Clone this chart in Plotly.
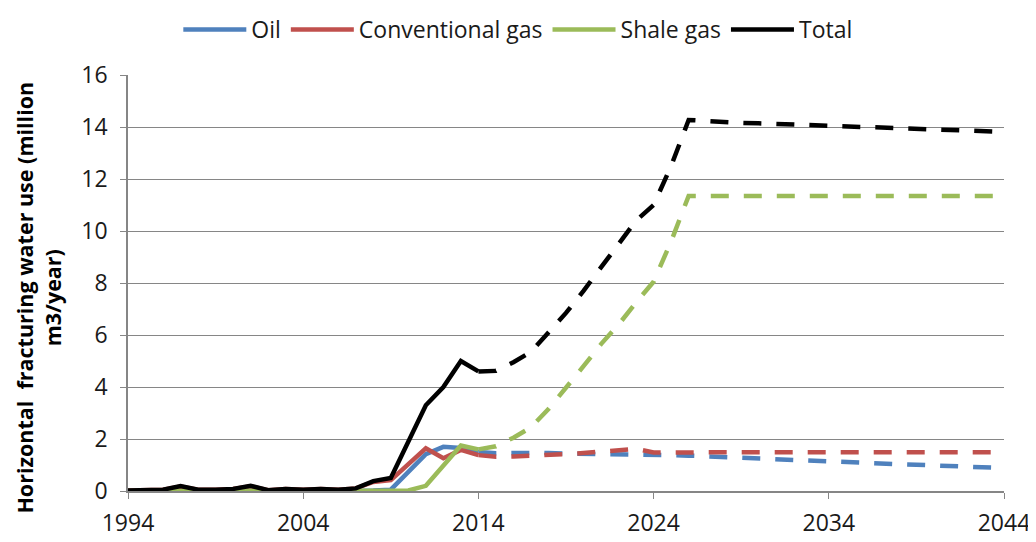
import plotly.graph_objects as go

# Historical (solid) 1994-2014
hist_years = list(range(1994, 2015))
oil_hist = [0, 0, 0, 0, 0, 0, 0, 0, 0, 0, 0, 0, 0, 0, 0.02, 0.05, 0.72, 1.42, 1.7, 1.65, 1.5]
gas_hist = [0.02, 0.02, 0.05, 0.17, 0.05, 0.05, 0.08, 0.18, 0.03, 0.08, 0.05, 0.08, 0.05, 0.1, 0.35, 0.42, 1.05, 1.64, 1.26, 1.58, 1.38]
shale_hist = [0, 0, 0, 0, 0, 0, 0, 0, 0, 0, 0, 0, 0, 0, 0, 0, 0.02, 0.2, 0.95, 1.75, 1.6]
total_hist = [0.02, 0.02, 0.05, 0.19, 0.05, 0.05, 0.08, 0.2, 0.03, 0.08, 0.05, 0.08, 0.05, 0.1, 0.38, 0.5, 1.9, 3.3, 4.0, 5.0, 4.6]

# Projections (dashed) 2014-2044
proj_years = list(range(2014, 2045))
oil_proj = [1.5, 1.45, 1.46, 1.47, 1.46, 1.44, 1.43, 1.43, 1.43, 1.44, 1.39, 1.38, 1.36, 1.33, 1.31, 1.27,
            1.23, 1.21, 1.18, 1.15, 1.12, 1.1, 1.08, 1.06, 1.03, 1.01, 0.98, 0.95, 0.92, 0.9, 0.88]
gas_proj = [1.38, 1.32, 1.33, 1.35, 1.38, 1.42, 1.46, 1.5, 1.55, 1.62, 1.48, 1.49, 1.49, 1.49, 1.49, 1.49,
            1.49, 1.49, 1.49, 1.49, 1.49, 1.49, 1.49, 1.49, 1.49, 1.49, 1.49, 1.49, 1.49, 1.49, 1.49]
shale_proj = [1.6, 1.72, 2.05, 2.45, 3.15, 3.95, 4.8, 5.65, 6.4, 7.25, 8.05, 9.6, 11.35, 11.35, 11.35, 11.35,
              11.35, 11.35, 11.35, 11.35, 11.35, 11.35, 11.35, 11.35, 11.35, 11.35, 11.35, 11.35, 11.35, 11.35, 11.35]
total_proj = [4.6, 4.62, 4.95, 5.35, 6.1, 6.85, 7.7, 8.6, 9.45, 10.4, 11.0, 12.5, 14.27, 14.22, 14.2, 14.16,
              14.14, 14.11, 14.09, 14.07, 14.05, 14.03, 14.0, 13.98, 13.96, 13.93, 13.9, 13.88, 13.86, 13.83, 13.81]

names = ["Oil", "Conventional gas", "Shale gas", "Total"]
colors = ["#4F81BD", "#C0504D", "#9BBB59", "#000000"]
hist = [oil_hist, gas_hist, shale_hist, total_hist]
proj = [oil_proj, gas_proj, shale_proj, total_proj]

x_ticks = [1994, 2004, 2014, 2024, 2034, 2044]
y_ticks = [0, 2, 4, 6, 8, 10, 12, 14, 16]
y_title = "<b>Horizontal  fracturing water use (million<br>m3/year)</b>"

fig = go.Figure()
for n, c, h, p in zip(names, colors, hist, proj):
    fig.add_trace(go.Scatter(x=proj_years, y=p, mode="lines", showlegend=False,
                             line=dict(color=c, width=4.5, dash="18px,15px"), hoverinfo="skip"))
for n, c, h, p in zip(names, colors, hist, proj):
    fig.add_trace(go.Scatter(x=hist_years, y=h, mode="lines", name=n,
                             line=dict(color=c, width=4.5)))

font_family = "Open Sans"
# the page body adds an 8px offset, so the figure is sized to compensate
fig.update_layout(
    width=1028, height=534,
    margin=dict(l=120, r=32, t=67, b=51),
    paper_bgcolor="white", plot_bgcolor="white",
    font=dict(family=font_family, size=23, color="#1a1a1a"),
    legend=dict(orientation="h", x=0.445, xanchor="center", y=1.0, yref="container", yanchor="top",
                font=dict(size=23, family=font_family), traceorder="normal", itemwidth=63,
                tracegroupgap=0, bgcolor="rgba(0,0,0,0)"),
    xaxis=dict(range=[1994, 2044], tickvals=x_ticks, ticktext=[str(v) for v in x_ticks],
               showgrid=False, zeroline=False, showline=True, linecolor="#868686", linewidth=1.5,
               ticks="outside", ticklen=6, tickcolor="#868686", tickfont=dict(size=23),
               ticklabelstandoff=5, automargin=False),
    yaxis=dict(range=[0, 16], tickvals=y_ticks, showgrid=True, gridcolor="#868686", gridwidth=1.2,
               zeroline=False, showline=True, linecolor="#868686", linewidth=1.5,
               ticks="outside", ticklen=6, tickcolor="#868686", tickfont=dict(size=23),
               ticklabelstandoff=8, automargin=False),
    annotations=[dict(text=y_title, textangle=-90, xref="paper", yref="paper",
                      x=-0.102, y=0.464, xanchor="center", yanchor="middle", showarrow=False,
                      font=dict(size=21.5, family=font_family, color="#000000"))],
)
fig.write_html("out.html")
